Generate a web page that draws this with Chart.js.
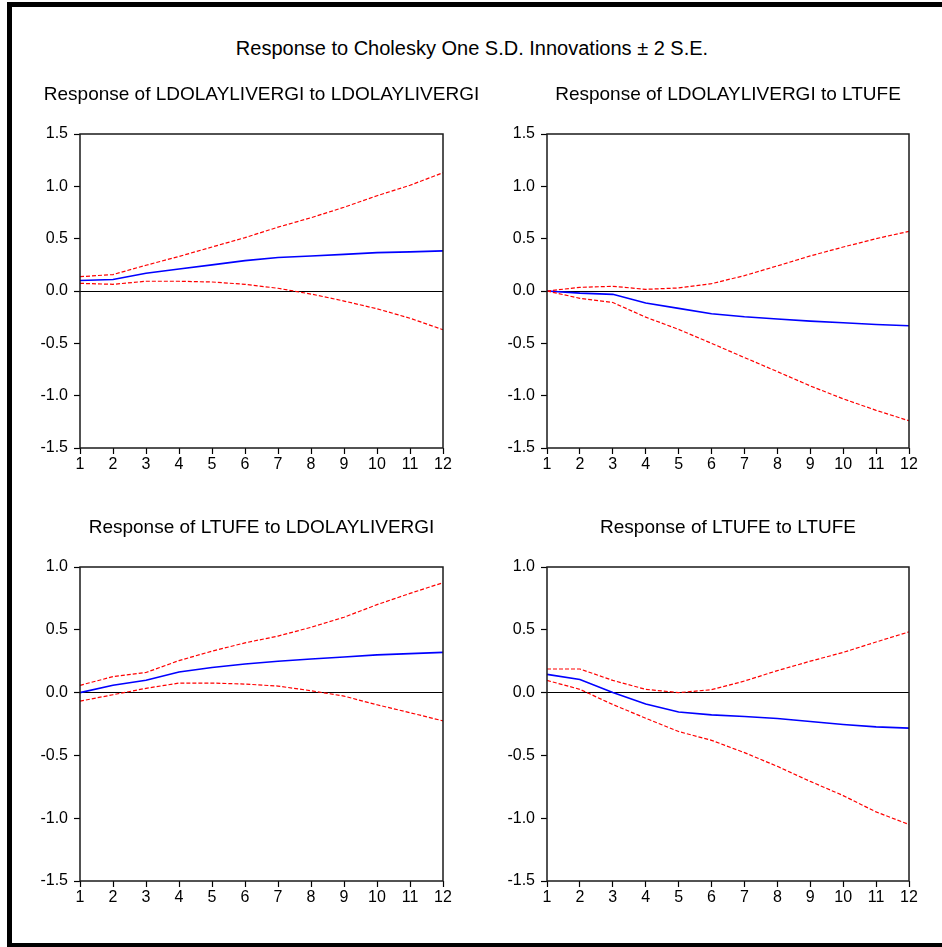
<!DOCTYPE html>
<html>
<head>
<meta charset="utf-8">
<script src="https://cdn.jsdelivr.net/npm/chart.js@4/dist/chart.umd.min.js"></script>
<style>
    html, body { margin: 0; padding: 0; background: #fff; overflow: hidden; }
    body { width: 942px; height: 947px; position: relative; }
    #frame
    {
        position: absolute; left: 7px; top: 2px; width: 1000px; height: 946px;
        box-sizing: border-box; border: 5px solid #000;
    }
    #mainTitle
    {
        position: absolute; left: 0; width: 944px; top: 37px; height: 24px; line-height: 24px;
        text-align: center; font: 20px 'Liberation Sans', Arial, sans-serif; color: #000;
    }
    canvas { position: absolute; }
</style>
</head>
<body>
<div id="frame"></div>
<div id="mainTitle">Response to Cholesky One S.D. Innovations ± 2 S.E.</div>
<canvas id="c1" width="523" height="418" style="left:0px;top:70px"></canvas>
<canvas id="c2" width="516" height="418" style="left:470px;top:70px"></canvas>
<canvas id="c3" width="523" height="418" style="left:0px;top:503px"></canvas>
<canvas id="c4" width="516" height="418" style="left:470px;top:503px"></canvas>
<script>
const periods = ['1', '2', '3', '4', '5', '6', '7', '8', '9', '10', '11', '12'];

// LDOLAYLIVERGI to LDOLAYLIVERGI
const dolDolResp  = [0.10, 0.11, 0.17, 0.21, 0.25, 0.29, 0.32, 0.335, 0.35, 0.367, 0.374, 0.383];
const dolDolUpper = [0.137, 0.157, 0.246, 0.33, 0.42, 0.51, 0.61, 0.70, 0.80, 0.91, 1.01, 1.13];
const dolDolLower = [0.073, 0.064, 0.093, 0.093, 0.086, 0.064, 0.026, -0.029, -0.096, -0.17, -0.26, -0.37];

// LDOLAYLIVERGI to LTUFE
const dolTufeResp  = [0.0, -0.02, -0.032, -0.115, -0.166, -0.217, -0.246, -0.268, -0.288, -0.303, -0.32, -0.332];
const dolTufeUpper = [0.0, 0.035, 0.045, 0.016, 0.029, 0.07, 0.147, 0.24, 0.335, 0.42, 0.50, 0.57];
const dolTufeLower = [0.0, -0.07, -0.11, -0.25, -0.367, -0.50, -0.636, -0.77, -0.907, -1.03, -1.14, -1.24];

// LTUFE to LDOLAYLIVERGI
const tufeDolResp  = [0.0, 0.058, 0.098, 0.164, 0.20, 0.228, 0.25, 0.268, 0.284, 0.30, 0.31, 0.32];
const tufeDolUpper = [0.058, 0.127, 0.16, 0.255, 0.33, 0.396, 0.45, 0.52, 0.60, 0.70, 0.79, 0.875];
const tufeDolLower = [-0.068, -0.017, 0.034, 0.076, 0.076, 0.068, 0.052, 0.015, -0.028, -0.097, -0.16, -0.225];

// LTUFE to LTUFE
const tufeTufeResp  = [0.145, 0.105, 0.0, -0.09, -0.155, -0.177, -0.19, -0.206, -0.23, -0.254, -0.273, -0.283];
const tufeTufeUpper = [0.188, 0.188, 0.097, 0.026, 0.0, 0.023, 0.092, 0.175, 0.25, 0.32, 0.403, 0.483];
const tufeTufeLower = [0.097, 0.026, -0.095, -0.204, -0.31, -0.38, -0.478, -0.587, -0.707, -0.82, -0.95, -1.05];

const FONT = "'Liberation Sans', Arial, sans-serif";

const frameBox =
{
    id: 'frameBox',
    afterDatasetsDraw(chart)
    {
        const a = chart.chartArea;
        const ctx = chart.ctx;
        ctx.save();
        ctx.strokeStyle = '#1a1a1a';
        ctx.lineWidth = 1.5;
        ctx.strokeRect(a.left, a.top, a.right - a.left, a.bottom - a.top);
        ctx.restore();
    }
};

// the right spacer axis has the same width as the left one, so the
// full-width title ends up centred over the plot box
function makePanel(canvasId, title, resp, upper, lower, yMax, axisWidth)
{
    return new Chart(document.getElementById(canvasId),
    {
        type: 'line',
        data:
        {
            labels: periods,
            datasets:
            [
                { data: upper, borderColor: '#ff0000', borderWidth: 1.2, borderDash: [4, 2] },
                { data: lower, borderColor: '#ff0000', borderWidth: 1.2, borderDash: [4, 2] },
                { data: resp, borderColor: '#0000ff', borderWidth: 1.6 }
            ]
        },
        options:
        {
            responsive: false,
            animation: false,
            devicePixelRatio: 1,
            elements: { point: { radius: 0 }, line: { tension: 0 } },
            layout: { padding: 0 },
            plugins:
            {
                legend: { display: false },
                tooltip: { enabled: false },
                title:
                {
                    display: true,
                    text: title,
                    color: '#000',
                    font: { family: FONT, size: 19, weight: 'normal' },
                    padding: { top: 13.6, bottom: 27.6 }
                }
            },
            scales:
            {
                x:
                {
                    offset: false,
                    border: { display: false },
                    grid: { drawOnChartArea: false, tickLength: 6, tickColor: '#000', tickWidth: 1.2 },
                    ticks: { color: '#000', padding: 1, maxRotation: 0, autoSkip: false, font: { family: FONT, size: 16 } },
                    afterFit: (scale) => { scale.height = 40; }
                },
                y:
                {
                    min: -1.5,
                    max: yMax,
                    border: { display: false },
                    grid:
                    {
                        tickLength: 6,
                        tickColor: '#000',
                        tickWidth: 1.2,
                        lineWidth: 1,
                        color: (c) => (c.tick && c.tick.value === 0) ? '#000' : 'rgba(0,0,0,0)'
                    },
                    ticks:
                    {
                        stepSize: 0.5,
                        color: '#000',
                        padding: 6,
                        font: { family: FONT, size: 16 },
                        callback: (v) => v.toFixed(1)
                    },
                    afterFit: (scale) => { scale.width = axisWidth; }
                },
                y2:
                {
                    position: 'right',
                    min: -1.5,
                    max: yMax,
                    border: { display: false },
                    grid: { display: false },
                    ticks: { display: false },
                    afterFit: (scale) => { scale.width = axisWidth; }
                }
            }
        },
        plugins: [frameBox]
    });
}

makePanel('c1', 'Response of LDOLAYLIVERGI to LDOLAYLIVERGI', dolDolResp, dolDolUpper, dolDolLower, 1.5, 80);
makePanel('c2', 'Response of LDOLAYLIVERGI to LTUFE', dolTufeResp, dolTufeUpper, dolTufeLower, 1.5, 77);
makePanel('c3', 'Response of LTUFE to LDOLAYLIVERGI', tufeDolResp, tufeDolUpper, tufeDolLower, 1.0, 80);
makePanel('c4', 'Response of LTUFE to LTUFE', tufeTufeResp, tufeTufeUpper, tufeTufeLower, 1.0, 77);
</script>
</body>
</html>
